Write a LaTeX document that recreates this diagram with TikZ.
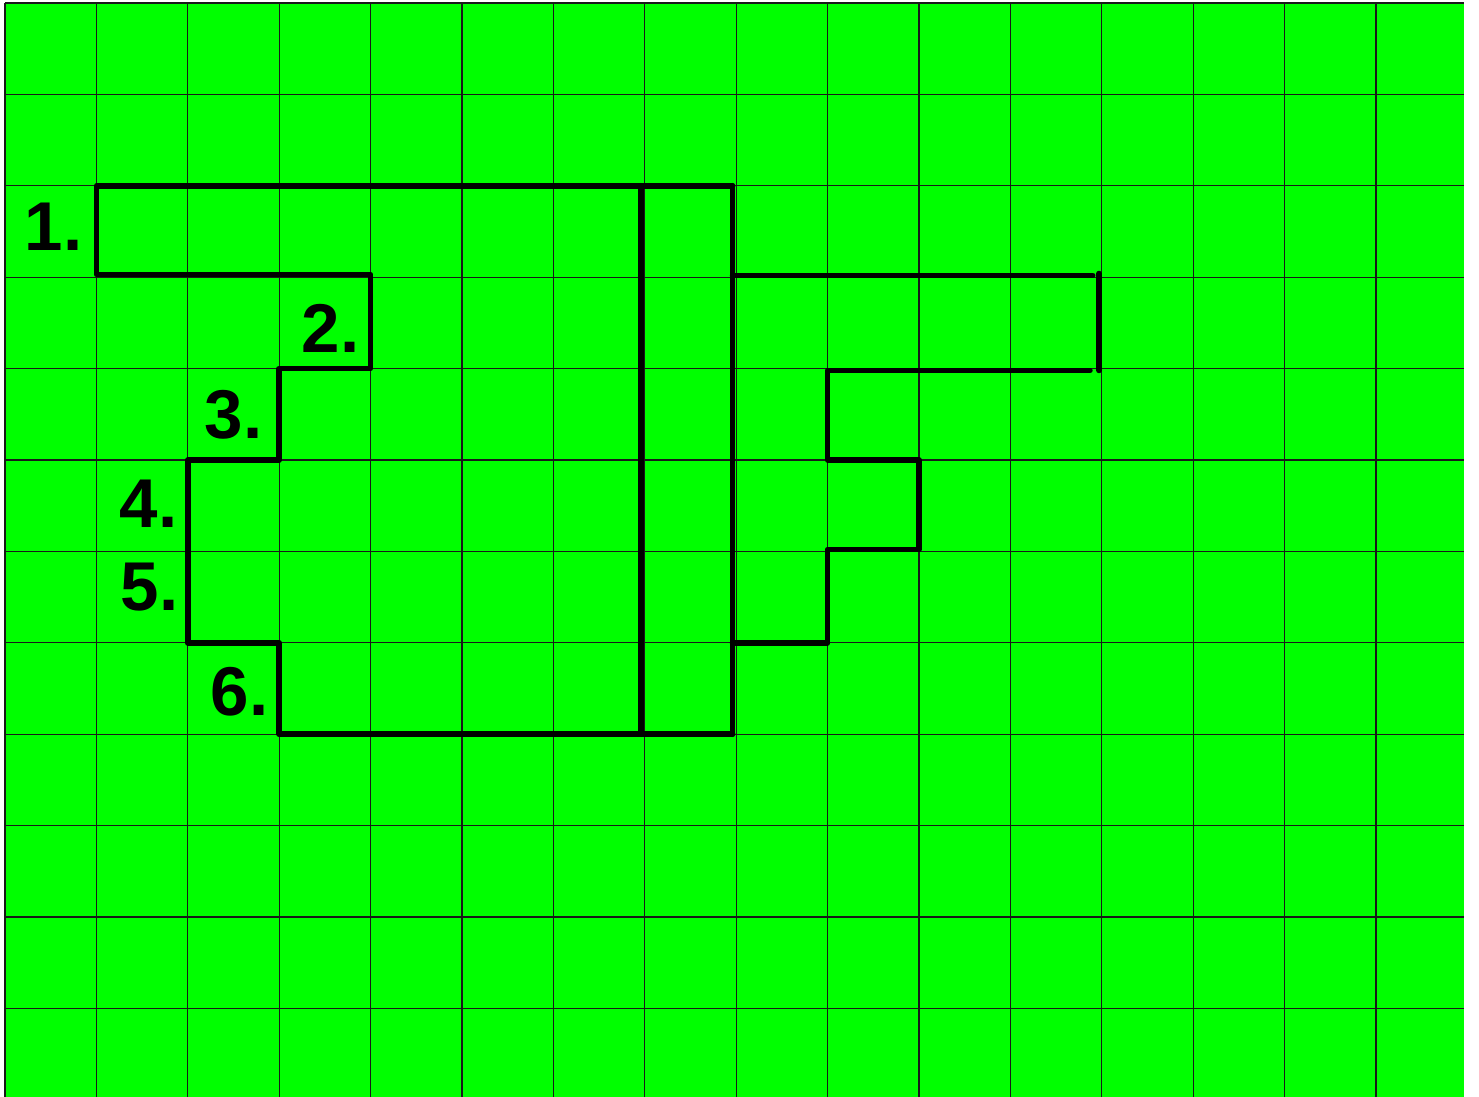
\documentclass[tikz,border=0pt]{standalone}
\usepackage{fontspec}
\setmainfont{Liberation Sans}
\definecolor{boardGreen}{HTML}{00FF00}

\begin{document}
\begin{tikzpicture}[
    gridline/.style={line width=0.35pt, draw=black!90},
    outline/.style={line width=1.75pt, line cap=round, line join=round},
    steplabel/.style={font=\bfseries\fontsize{21.5}{26}\selectfont, inner sep=0pt}
]
  % Page frame and green board
  \useasboundingbox (-0.055, 0.033) rectangle (16.127, -11.969);
  \fill[white] (-0.055, 0.033) rectangle (16.127, -11.969);
  \fill[boardGreen] (0, 0) rectangle (15.96, -11.969);

  % Grid
  \foreach \x in {0,...,15}
    \draw[gridline] (\x, 0) -- (\x, -11.969);
  \foreach \y in {0,...,11}
    \draw[gridline] (0, -\y) -- (15.96, -\y);

  % Left outline with the steps
  \draw[outline] (7.96, -2) -- (1, -2) -- (1, -2.97) -- (4, -2.97) -- (4, -4)
      -- (3, -4) -- (3, -5) -- (2, -5) -- (2, -7) -- (3, -7) -- (3, -8) -- (7.96, -8);
  \draw[outline] (6.96, -2) -- (6.96, -8);
  \draw[outline] (7.96, -2) -- (7.96, -8);

  % Right outline
  \draw[outline] (7.96, -2.98) -- (11.9, -2.98);
  \draw[outline] (11.97, -2.96) -- (11.97, -4.02);
  \draw[outline] (11.87, -4.02) -- (9, -4.02) -- (9, -5) -- (10, -5) -- (10, -5.98)
      -- (9, -5.98) -- (9, -7) -- (7.96, -7);

  % Step numbers
  \node[steplabel] (step1) at (0.53, -2.451) {1.};
  \node[steplabel] (step2) at (3.56, -3.556) {2.};
  \node[steplabel] (step3) at (2.50, -4.508) {3.};
  \node[steplabel] (step4) at (1.57, -5.481) {4.};
  \node[steplabel] (step5) at (1.58, -6.389) {5.};
  \node[steplabel] (step6) at (2.565, -7.538) {6.};

\end{tikzpicture}
\end{document}
